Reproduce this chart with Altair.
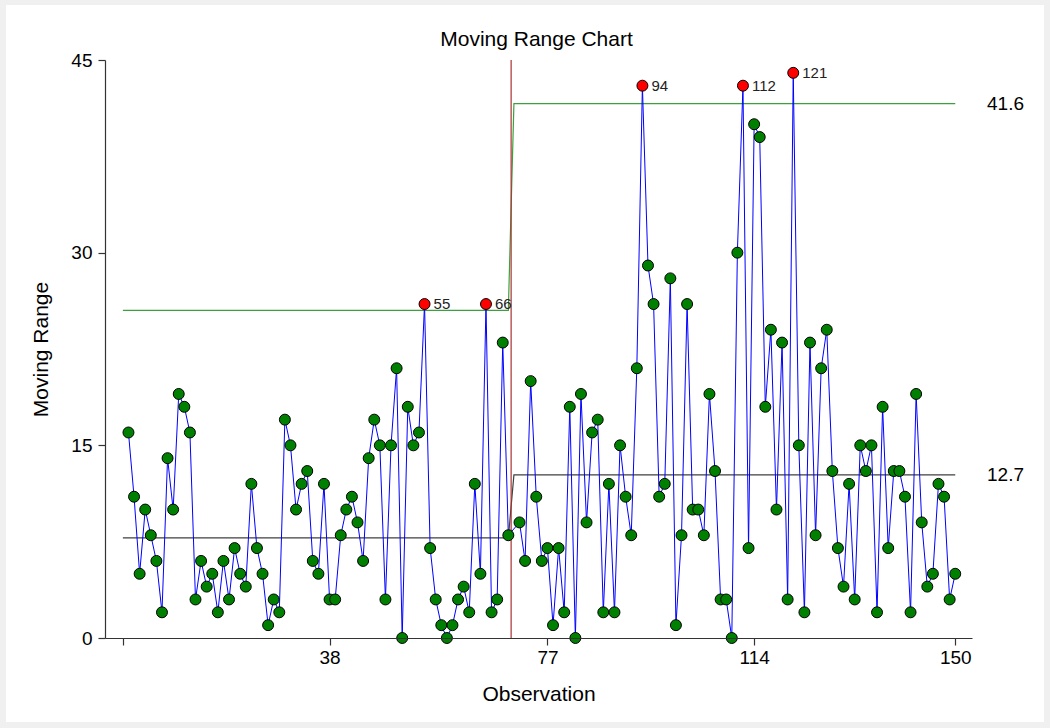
import altair as alt
import pandas as pd

# ---- data ----
phase1_obs = list(range(2, 71))
phase1_mr = [16, 11, 5, 10, 8, 6, 2, 14, 10, 19,
             18, 16, 3, 6, 4, 5, 2, 6, 3, 7,
             5, 4, 12, 7, 5, 1, 3, 2, 17, 15,
             10, 12, 13, 6, 5, 12, 3, 3, 8, 10,
             11, 9, 6, 14, 17, 15, 3, 15, 21, 0,
             18, 15, 16, 26, 7, 3, 1, 0, 1, 3,
             4, 2, 12, 5, 26, 2, 3, 23, 8]
phase2_obs = list(range(72, 151))
phase2_mr = [9, 6, 20, 11, 6, 7, 1, 7, 2, 18,
             0, 19, 9, 16, 17, 2, 12, 2, 15, 11,
             8, 21, 43, 29, 26, 11, 12, 28, 1, 8,
             26, 10, 10, 8, 19, 13, 3, 3, 0, 30,
             43, 7, 40, 39, 18, 24, 10, 23, 3, 44,
             15, 2, 23, 8, 21, 24, 13, 7, 4, 12,
             3, 15, 13, 15, 2, 18, 7, 13, 13, 11,
             2, 19, 9, 4, 5, 12, 11, 3, 5]

limit_obs = [1, 70, 71, 150]
center_line = [7.8, 7.8, 12.7, 12.7]
upper_limit = [25.5, 25.5, 41.6, 41.6]
phase_change = [70.5]
x_ticks = [1, 38, 77, 114, 150]
y_ticks = [0, 15, 30, 45]
right_labels = ["41.6", "12.7"]
right_values = [41.6, 12.7]
chart_title = ["Moving Range Chart"]

# ---- tables ----
ucl1, ucl2 = upper_limit[0], upper_limit[2]
rows = []
for o, v in zip(phase1_obs, phase1_mr):
    rows.append({"obs": o, "mr": v, "out": v > ucl1})
for o, v in zip(phase2_obs, phase2_mr):
    rows.append({"obs": o, "mr": v, "out": v > ucl2})
pts = pd.DataFrame(rows)
pts["label"] = pts["obs"].astype(str)
lim = pd.DataFrame({"obs": limit_obs, "cl": center_line, "ucl": upper_limit})
rl = pd.DataFrame({"val": right_values, "txt": right_labels})
pc = pd.DataFrame({"obs": phase_change})

W, H = 867, 578
FONT = "Liberation Sans"

xs = alt.Scale(domain=[-2.2, 153], nice=False, zero=False)
ys = alt.Scale(domain=[0, 45], nice=False, zero=True)

xaxis = alt.Axis(values=x_ticks, title="Observation",
                 labelExpr="datum.value == 1 ? '' : datum.label",
                 grid=False, tickSize=7, labelFontSize=19, titleFontSize=21,
                 titleFontWeight="normal", titlePadding=16, labelPadding=3,
                 zindex=1)
yaxis = alt.Axis(values=y_ticks, title="Moving Range", grid=False, tickSize=7,
                 labelFontSize=19, titleFontSize=21, titleFontWeight="normal",
                 titlePadding=19, labelPadding=6, zindex=1)

bg = alt.Chart(pd.DataFrame({"a": [0]})).mark_rect(color="white").encode(
    x=alt.value(-99), x2=alt.value(W + 72), y=alt.value(-55), y2=alt.value(H + 84)
)
title = alt.Chart(pd.DataFrame({"t": chart_title})).mark_text(
    fontSize=21, font=FONT, color="black", align="center", baseline="alphabetic"
).encode(x=alt.value(W / 2 - 2), y=alt.value(-14), text="t:N")

ucl_line = alt.Chart(lim).mark_line(color="#3ca03c", strokeWidth=1.2).encode(
    x=alt.X("obs:Q", scale=xs, axis=xaxis),
    y=alt.Y("ucl:Q", scale=ys, axis=yaxis),
)
cl_line = alt.Chart(lim).mark_line(color="#404040", strokeWidth=1.2).encode(
    x=alt.X("obs:Q", scale=xs), y=alt.Y("cl:Q", scale=ys)
)
vrule = alt.Chart(pc).mark_rule(color="#a83232", strokeWidth=1.2).encode(
    x=alt.X("obs:Q", scale=xs)
)
data_line = alt.Chart(pts).mark_line(color="#0000ff", strokeWidth=1).encode(
    x=alt.X("obs:Q", scale=xs), y=alt.Y("mr:Q", scale=ys), order="obs:Q"
)
points = alt.Chart(pts).mark_point(filled=True, size=120, stroke="black",
                                   strokeWidth=1, opacity=1).encode(
    x=alt.X("obs:Q", scale=xs), y=alt.Y("mr:Q", scale=ys),
    fill=alt.Fill("out:N", scale=alt.Scale(domain=[False, True],
                                           range=["#008000", "#ff0000"]),
                  legend=None),
)
out_labels = alt.Chart(pts).transform_filter("datum.out").mark_text(
    align="left", baseline="middle", dx=9, fontSize=15, font=FONT, color="#222222"
).encode(x=alt.X("obs:Q", scale=xs), y=alt.Y("mr:Q", scale=ys), text="label:N")
side_labels = alt.Chart(rl).mark_text(
    align="left", baseline="middle", fontSize=19, font=FONT, color="black"
).encode(x=alt.value(882), y=alt.Y("val:Q", scale=ys), text="txt:N")

chart = alt.layer(bg, ucl_line, cl_line, vrule, data_line, points, out_labels,
                  side_labels, title).properties(
    width=W, height=H,
    autosize=alt.AutoSizeParams(type="none"),
    padding={"left": 105, "top": 60, "right": 78, "bottom": 90},
    background="#f0f0f0",
).configure_view(stroke=None).configure_axis(
    domainColor="#333333", tickColor="#333333", labelColor="black",
    titleColor="black", labelFont=FONT, titleFont=FONT, domainWidth=1.2,
    tickWidth=1.2,
)

chart.save("out.html", embed_options={"renderer": "svg", "actions": False})
